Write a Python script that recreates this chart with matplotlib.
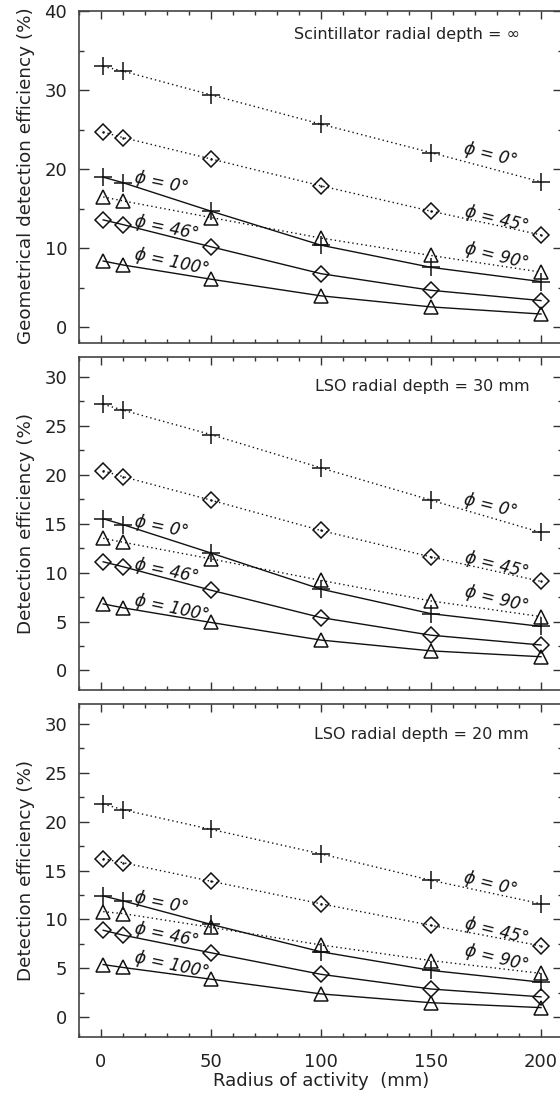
import matplotlib
matplotlib.use("Agg")
import matplotlib.pyplot as plt
from matplotlib.ticker import MultipleLocator

plt.rcParams['font.family'] = ['DejaVu Sans']

# x positions: radius of activity (mm)
radius = [1, 10, 50, 100, 150, 200]

# Panel 1: scintillator radial depth = infinity (geometrical detection efficiency, %)
inf_dot_0 = [33.0, 32.4, 29.4, 25.7, 22.1, 18.4]
inf_dot_45 = [24.7, 24.0, 21.3, 17.9, 14.7, 11.7]
inf_dot_90 = [16.5, 16.0, 13.9, 11.3, 9.1, 7.0]
inf_sol_0 = [19.0, 18.3, 14.7, 10.4, 7.6, 5.8]
inf_sol_46 = [13.6, 13.0, 10.2, 6.8, 4.7, 3.4]
inf_sol_100 = [8.4, 7.9, 6.1, 4.0, 2.6, 1.7]

# Panel 2: LSO radial depth = 30 mm
lso30_dot_0 = [27.2, 26.6, 24.1, 20.7, 17.4, 14.1]
lso30_dot_45 = [20.4, 19.8, 17.4, 14.3, 11.6, 9.1]
lso30_dot_90 = [13.5, 13.1, 11.4, 9.2, 7.1, 5.5]
lso30_sol_0 = [15.5, 14.9, 12.0, 8.3, 5.8, 4.5]
lso30_sol_46 = [11.1, 10.6, 8.2, 5.4, 3.6, 2.6]
lso30_sol_100 = [6.8, 6.4, 4.9, 3.1, 2.0, 1.4]

# Panel 3: LSO radial depth = 20 mm
lso20_dot_0 = [21.8, 21.2, 19.2, 16.7, 14.0, 11.6]
lso20_dot_45 = [16.2, 15.8, 13.9, 11.6, 9.4, 7.3]
lso20_dot_90 = [10.8, 10.6, 9.2, 7.4, 5.8, 4.5]
lso20_sol_0 = [12.4, 11.9, 9.5, 6.7, 4.8, 3.6]
lso20_sol_46 = [8.9, 8.4, 6.6, 4.4, 2.9, 2.1]
lso20_sol_100 = [5.4, 5.1, 3.9, 2.4, 1.5, 1.0]

panel_titles = ["Scintillator radial depth = \u221e",
                "LSO radial depth = 30 mm",
                "LSO radial depth = 20 mm"]
y_labels = ["Geometrical detection efficiency (%)",
            "Detection efficiency (%)",
            "Detection efficiency (%)"]
right_labels = ["\u03d5 = 0\u00b0", "\u03d5 = 45\u00b0", "\u03d5 = 90\u00b0"]
left_labels = ["\u03d5 = 0\u00b0", "\u03d5 = 46\u00b0", "\u03d5 = 100\u00b0"]
x_label = "Radius of activity  (mm)"

panels = [
    ([inf_dot_0, inf_dot_45, inf_dot_90], [inf_sol_0, inf_sol_46, inf_sol_100]),
    ([lso30_dot_0, lso30_dot_45, lso30_dot_90], [lso30_sol_0, lso30_sol_46, lso30_sol_100]),
    ([lso20_dot_0, lso20_dot_45, lso20_dot_90], [lso20_sol_0, lso20_sol_46, lso20_sol_100]),
]

# label anchor positions (data coords) per panel
right_pos = [[(177, 21.8), (180, 13.7), (180, 9.0)],
             [(177, 16.8), (180, 10.8), (180, 7.3)],
             [(177, 13.65), (180, 8.8), (180, 6.05)]]
left_pos = [[(27.4, 18.3), (29.7, 12.6), (32.3, 8.3)],
            [(27.4, 14.7), (29.7, 10.2), (32.3, 6.4)],
            [(27.4, 11.7), (29.7, 8.4), (32.3, 5.3)]]
title_pos = [(0.911, 0.928), (0.932, 0.913), (0.930, 0.908)]

ylims = [(-2, 40), (-2, 32), (-2, 32)]
ymajor = [10, 5, 5]
yminor = [5, 2.5, 2.5]

W, H = 560, 1100
fig = plt.figure(figsize=(W / 100, H / 100), dpi=100)

left = 79 / W
width = 484 / W
tops = [11, 357.3, 704]
bottoms = [343.3, 690, 1037]

markers = ['+', 'D', '^']
msizes = [12.5, 8, 10]
ink = '#111111'
dotted = (0, (1, 2.2))

for i in range(3):
    b = (H - bottoms[i]) / H
    h = (bottoms[i] - tops[i]) / H
    ax = fig.add_axes([left, b, width, h])
    dots, sols = panels[i]
    for vals, m, ms in zip(dots, markers, msizes):
        ax.plot(radius, vals, color=ink, lw=1.0, linestyle=dotted,
                marker=m, ms=ms, mfc='none', mec=ink, mew=1.1)
    for vals, m, ms in zip(sols, markers, msizes):
        ax.plot(radius, vals, color=ink, lw=1.0, linestyle='-',
                marker=m, ms=ms, mfc='none', mec=ink, mew=1.1)
    # small centre dots inside dotted-series diamonds, as in the reference
    ax.plot(radius, dots[1], linestyle='none', marker='.', ms=1.5, color=ink)

    ax.set_xlim(-10, 210)
    ax.set_ylim(*ylims[i])
    ax.xaxis.set_major_locator(MultipleLocator(50))
    ax.xaxis.set_minor_locator(MultipleLocator(10))
    ax.yaxis.set_major_locator(MultipleLocator(ymajor[i]))
    ax.yaxis.set_minor_locator(MultipleLocator(yminor[i]))
    ax.tick_params(axis='both', which='both', direction='in', top=True, right=True,
                   colors='#333333', labelcolor='#222222', labelsize=13, width=1.0)
    ax.tick_params(axis='x', which='major', length=6)
    ax.tick_params(axis='x', which='minor', length=3.2)
    ax.tick_params(axis='y', which='major', length=7)
    ax.tick_params(axis='y', which='minor', length=3.5)
    ax.tick_params(axis='x', pad=11.5)
    ax.tick_params(axis='y', pad=8.5)
    for s in ax.spines.values():
        s.set_color('#444444')
        s.set_linewidth(1.2)
    if i < 2:
        ax.tick_params(axis='x', labelbottom=False)
    else:
        ax.set_xlabel(x_label, fontsize=13, color='#222222', labelpad=1)

    ax.set_ylabel(y_labels[i], fontsize=13.2, color='#222222')
    ax.yaxis.set_label_coords(-0.090, 0.5 if i > 0 else 0.505)

    ax.text(title_pos[i][0], title_pos[i][1], panel_titles[i], transform=ax.transAxes,
            ha='right', va='center', fontsize=11.5, color='#222222')

    for (px, py), lab in zip(right_pos[i], right_labels):
        ax.text(px, py, lab, ha='center', va='center', fontsize=12,
                style='italic', rotation=-14, rotation_mode='anchor', color=ink)
    for (px, py), lab in zip(left_pos[i], left_labels):
        ax.text(px, py, lab, ha='center', va='center', fontsize=12,
                style='italic', rotation=-12, rotation_mode='anchor', color=ink)

fig.savefig("out.png", dpi=100)
